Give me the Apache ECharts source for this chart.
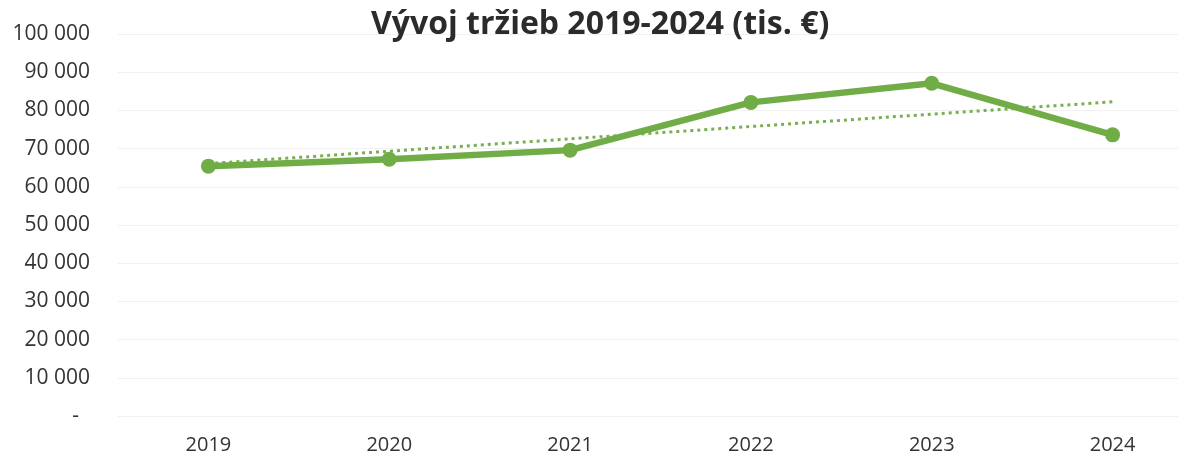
<!DOCTYPE html>
<html>
<head>
<meta charset="utf-8">
<script src="https://cdn.jsdelivr.net/npm/echarts@6/dist/echarts.min.js"></script>
<style>html,body{margin:0;padding:0;background:#fff}#c{width:1178px;height:456px}</style>
</head>
<body>
<div id="c"></div>
<script>
const titleText = 'Vývoj tržieb 2019-2024 (tis. €)';
const years = ['2019', '2020', '2021', '2022', '2023', '2024'];
const revenue = [65400, 67200, 69600, 82100, 87100, 73600];

// linear trendline (least squares over the data, as in the spreadsheet)
const n = revenue.length;
const mx = (n - 1) / 2;
const my = revenue.reduce((a, b) => a + b, 0) / n;
let sxy = 0, sxx = 0;
revenue.forEach((v, i) => { sxy += (i - mx) * (v - my); sxx += (i - mx) * (i - mx); });
const slope = sxy / sxx;
const trend = revenue.map((v, i) => my + slope * (i - mx));

const chart = echarts.init(document.getElementById('c'));
const font = '"Open Sans", sans-serif';
chart.setOption({
  animation: false,
  backgroundColor: '#fff',
  title: {
    text: titleText,
    left: 366, top: 4,
    textStyle: { fontFamily: font, fontWeight: 'bold', fontSize: 32, color: '#2b2b2b' }
  },
  grid: { left: 118, width: 1085, top: 34, height: 382, containLabel: false, outerBoundsMode: 'none' },
  xAxis: {
    type: 'category',
    data: years,
    boundaryGap: true,
    axisLine: { show: false },
    axisTick: { show: false },
    axisLabel: { fontFamily: font, fontSize: 20, color: '#333', margin: 19 }
  },
  yAxis: {
    type: 'value',
    min: 0, max: 100000, interval: 10000,
    axisLine: { show: false },
    axisTick: { show: false },
    splitLine: { lineStyle: { color: '#f1f1f1', width: 1 } },
    axisLabel: {
      fontFamily: font, fontSize: 21, color: '#333', margin: 28,
      formatter: v => v === 0 ? '-  ' : String(v).replace(/\B(?=(\d{3})+(?!\d))/g, ' ')
    }
  },
  series: [
    {
      type: 'line',
      data: revenue,
      symbol: 'circle',
      symbolSize: 15,
      lineStyle: { color: '#70ad47', width: 6.5 },
      itemStyle: { color: '#70ad47' },
      z: 3
    },
    {
      type: 'line',
      data: trend,
      symbol: 'none',
      lineStyle: { color: '#78b050', width: 3, type: [3, 4] },
      z: 2
    }
  ]
});
</script>
</body>
</html>
